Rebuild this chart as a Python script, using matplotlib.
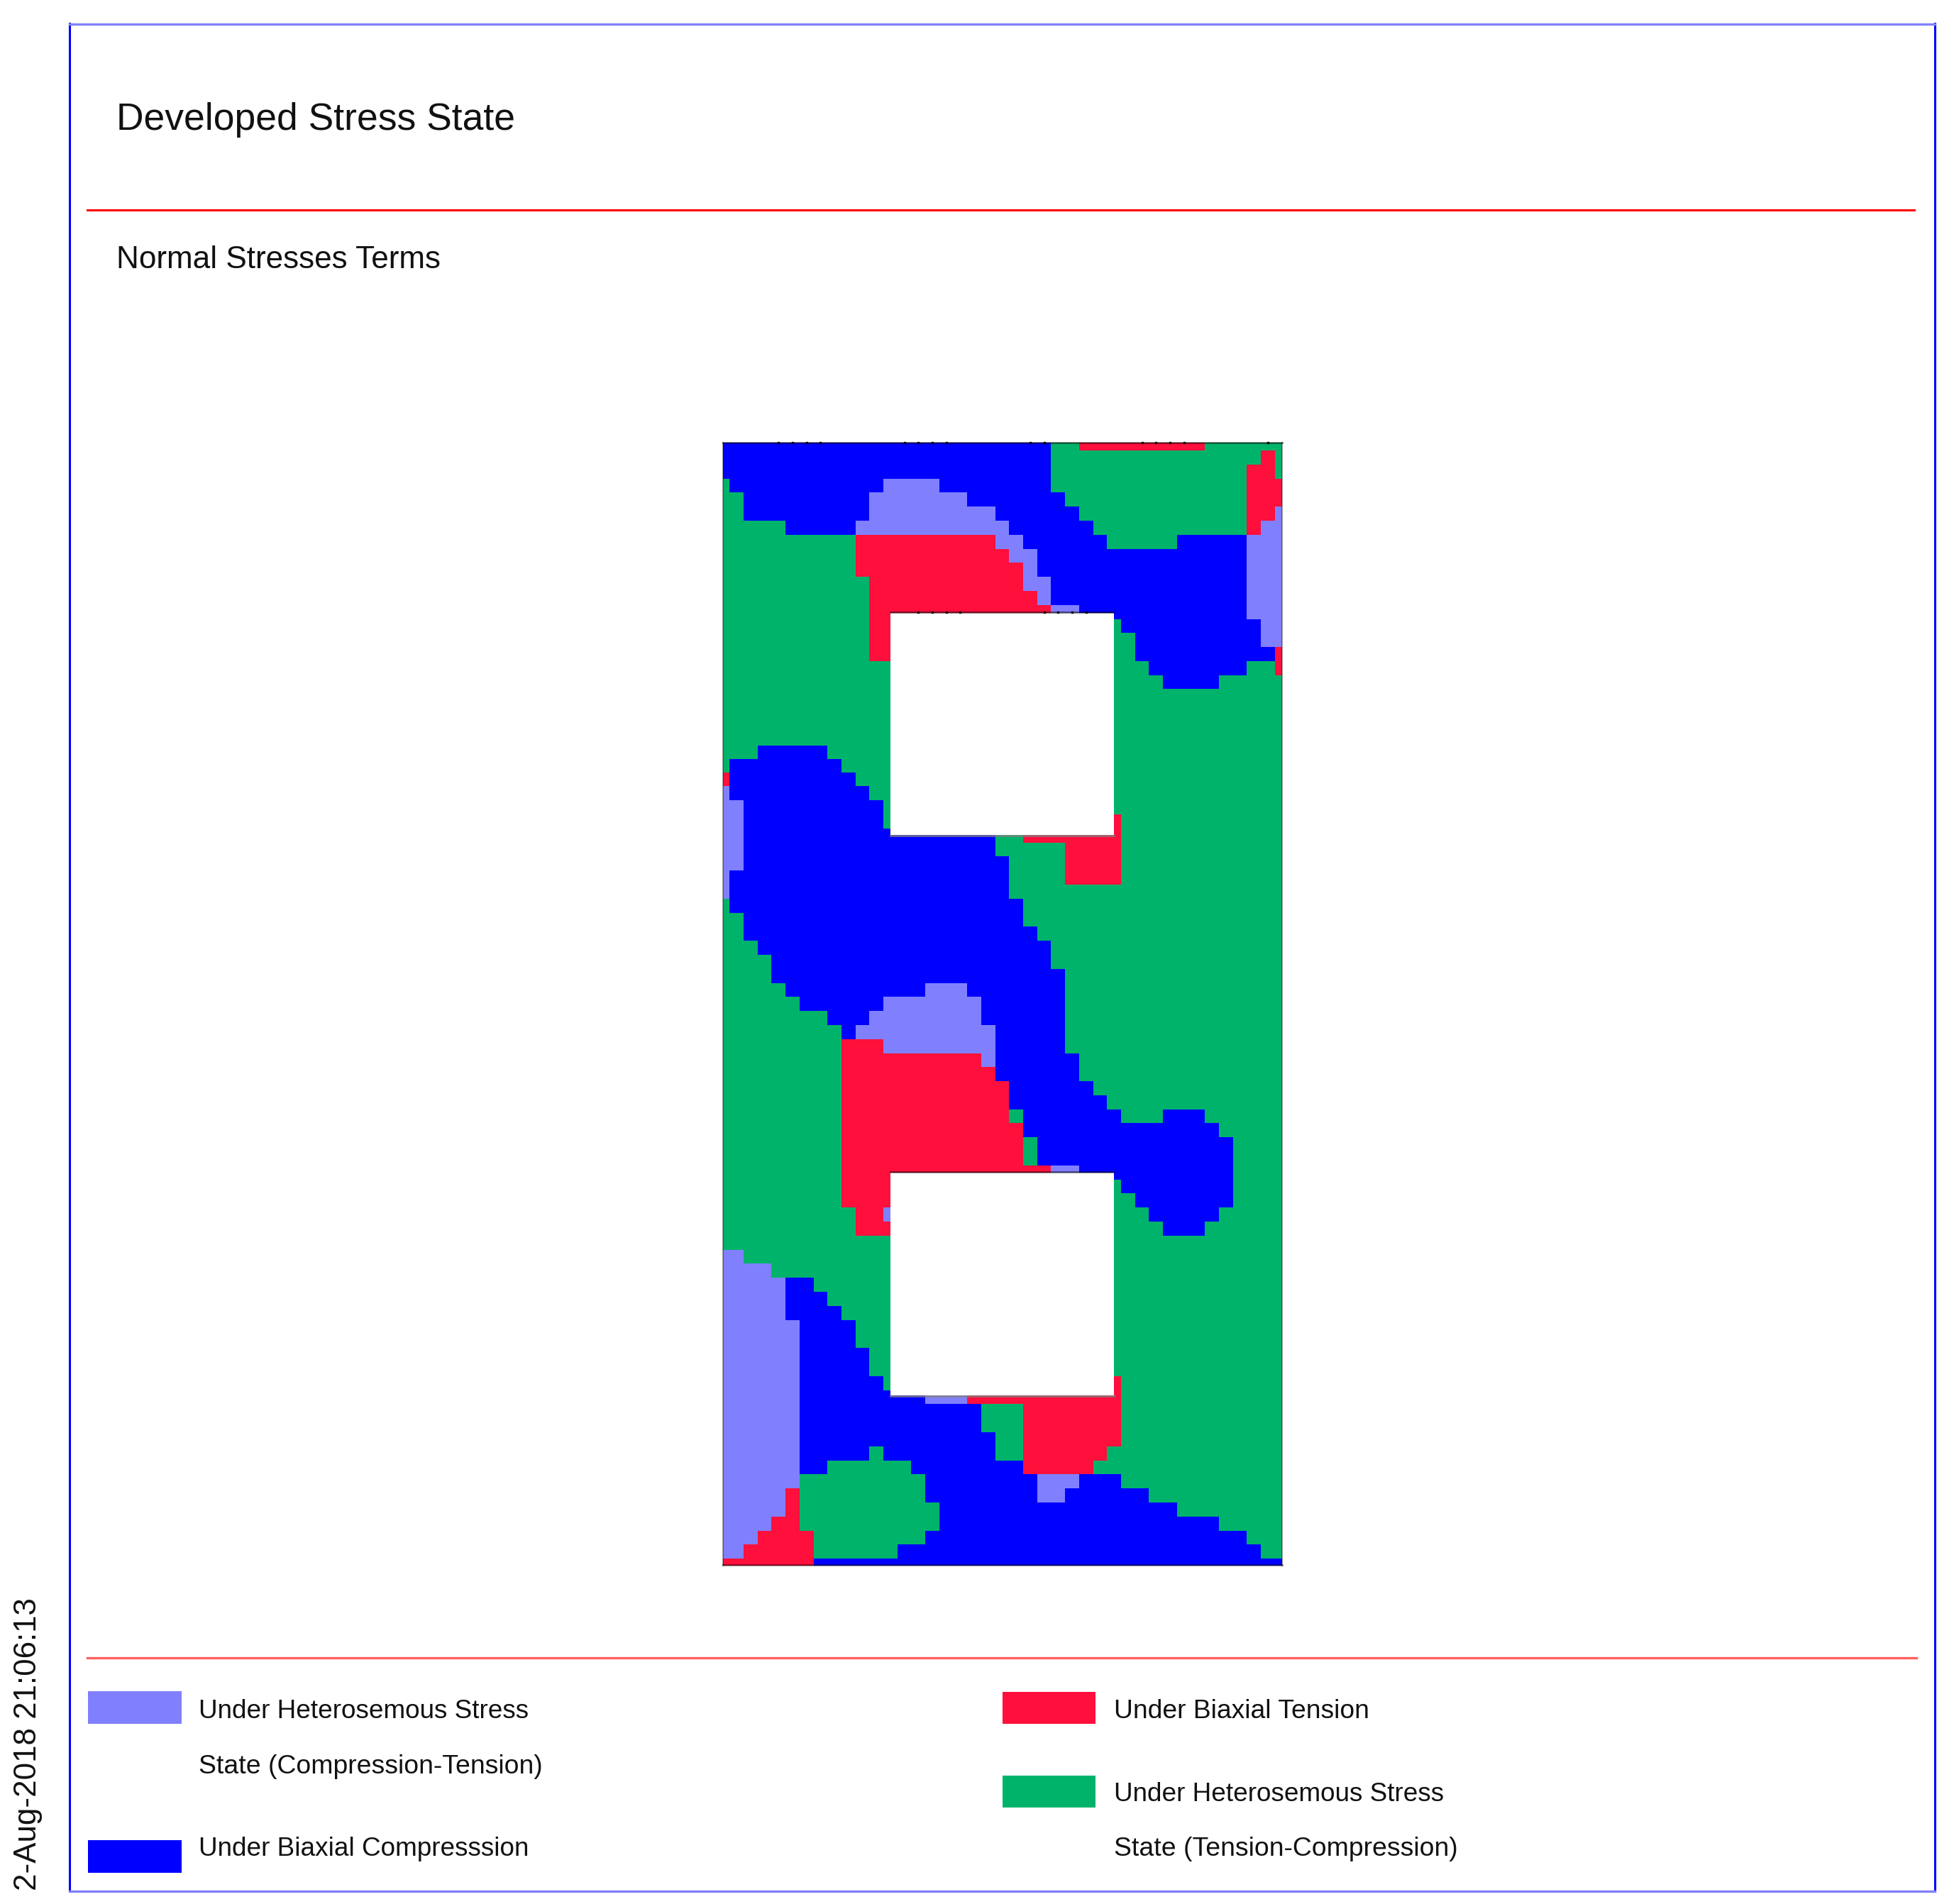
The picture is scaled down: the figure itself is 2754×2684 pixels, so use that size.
from matplotlib import pyplot as plt
from matplotlib.colors import ListedColormap
from matplotlib.patches import Rectangle
import numpy as np

plt.rcParams['font.family'] = ['Liberation Sans', 'DejaVu Sans']

W, H = 2754, 2684

# stress state of each mesh row, top to bottom: letter + column where it starts
states = "LBRG"
colors = ["#8080FF", "#0000FF", "#FF0F3C", "#00B36B"]
rows = [
    "B0 G24 R26 G35", "B0 G24 R39 G40", "B0 G24 R38 G40",
    "G0 B1 L12 B16 G24 R38", "G0 B2 L11 B18 G25 R38", "G0 B2 L11 B20 G26 R38 L40",
    "G0 B5 L10 B21 G27 R38 L39", "G0 R10 L20 B22 G28 B33 L38", "G0 R10 L21 B23 L38",
    "G0 R10 L22 B23 L38", "G0 R11 L22 B24 L38", "G0 R11 L23 B24 L38",
    "G0 R11 L24 B26 L38", "G0 R11 G28 B29 L39", "G0 R11 G28 B30 L39",
    "G0 R11 G28 B30 R40", "G0 B31 G38 R40", "G0 B32 G36",
    "G0", "G0", "G0", "G0",
    "G0 B3 G8", "G0 B1 G9", "R0 B1 G10", "L0 B1 G11", "L0 B2 G12",
    "L0 B2 G12 R28 G29", "L0 B2 G20 R22 G29", "L0 B2 G20 R25 G29", "L0 B2 G21 R25 G29",
    "L0 B1 G21 R25 G29", "L0 B1 G21", "G0 B1 G22", "G0 B2 G22", "G0 B2 G23",
    "G0 B3 G24", "G0 B4 G24", "G0 B4 G25", "G0 B5 L15 B18 G25", "G0 B6 L12 B19 G25",
    "G0 B8 L11 B19 G25", "G0 B9 L10 B20 G25", "G0 R9 L12 B20 G25", "G0 R9 L19 B20 G26",
    "G0 R9 B20 G26", "G0 R9 B21 G27", "G0 R9 B21 G28", "G0 R9 G21 B22 G29 B32 G35",
    "G0 R9 B22 G36", "G0 R9 G22 B23 G37", "G0 R9 G22 B23 G37", "G0 R9 L24 B26 G37",
    "G0 R9 G28 B29 G37", "G0 R9 G28 B30 G37", "G0 R10 L12 G28 B31 G36", "G0 R10 G28 B32 G35",
    "G0", "L0 G2", "L0 G4", "L0 B5 G7",
    "L0 B5 G8", "L0 B5 G9", "L0 B6 G10", "L0 B6 G10", "L0 B6 G11", "L0 B6 G11",
    "L0 B6 G12 R28 G29", "L0 B6 L15 R18 G29", "L0 B6 G19 R22 G29", "L0 B6 G19 R22 G29",
    "L0 B6 G20 R22 G29", "L0 B6 G11 B12 G20 R22 G28", "L0 B6 G8 B14 R22 G27",
    "L0 G6 B15 L23 B26 G29", "L0 R5 G6 B15 L23 B25 G31", "L0 R5 G6 B16 G33",
    "L0 R4 G6 B16 G36", "L0 R3 G7 B15 G38", "L0 R2 G7 B13 G39", "R0 B7",
]
hole_spans = [(12.15, 27.95), (52.0, 67.9)]
top_dots = [4, 5, 6, 7, 13, 14, 15, 16, 22, 23, 30, 31, 32, 33, 39]
hole_dots = [14, 15, 16, 17, 23, 24, 25, 26]

legend_labels = ["Under Heterosemous Stress", "State (Compression-Tension)", "Under Biaxial Compresssion",
                 "Under Biaxial Tension", "Under Heterosemous Stress", "State (Tension-Compression)"]


def buildGrid():
    grid = np.zeros((81, 41), dtype=int)
    for j, row in enumerate(rows):
        runs = row.split()
        for i, run in enumerate(runs):
            start = int(run[1:])
            end = int(runs[i + 1][1:]) if i + 1 < len(runs) else 41
            grid[j, start:end] = states.index(run[0])
    return grid


def main():
    fig = plt.figure(figsize=(W / 100, H / 100), dpi=100)
    ax = fig.add_axes([0, 0, 1, 1])
    ax.set_xlim(0, W)
    ax.set_ylim(H, 0)
    ax.axis("off")

    # frame, the horizontal sides come out paler in the original
    ax.plot([98, 98], [33, 2666], color="#0000FF", lw=2.2)
    ax.plot([2727, 2727], [33, 2666], color="#0000FF", lw=2.2)
    ax.plot([98, 2727], [34, 34], color="#8080FF", lw=2.4)
    ax.plot([98, 2727], [2666, 2666], color="#8080FF", lw=2.4)
    ax.plot([123, 2698], [296, 296], color="#FF0000", lw=2.2)
    ax.plot([123, 2701], [2337, 2337], color="#FF6060", lw=2.4)

    ax.text(163.5, 183, "Developed Stress State", fontsize=38.5, va="baseline", color="#111111")
    ax.text(163.5, 378, "Normal Stresses Terms", fontsize=31.8, va="baseline", color="#111111")
    ax.text(60, 2665, "2-Aug-2018 21:06:13", fontsize=31.6, rotation=90, ha="right", va="bottom", color="#111111")

    # legend
    ax.add_patch(Rectangle((124, 2384), 132, 46, fc=colors[0], ec="none"))
    ax.add_patch(Rectangle((124, 2594), 132, 46, fc=colors[1], ec="none"))
    ax.add_patch(Rectangle((1413, 2385), 131, 45, fc=colors[2], ec="none"))
    ax.add_patch(Rectangle((1413, 2503), 131, 45, fc=colors[3], ec="none"))
    ax.text(280.5, 2422, legend_labels[0], fontsize=26.6, va="baseline", color="#111111")
    ax.text(280.5, 2500, legend_labels[1], fontsize=26.9, va="baseline", color="#111111")
    ax.text(280.5, 2616, legend_labels[2], fontsize=26.6, va="baseline", color="#111111")
    ax.text(1570.5, 2422, legend_labels[3], fontsize=26.8, va="baseline", color="#111111")
    ax.text(1570.5, 2539, legend_labels[4], fontsize=26.6, va="baseline", color="#111111")
    ax.text(1570.5, 2616, legend_labels[5], fontsize=26.9, va="baseline", color="#111111")

    # mesh map, edge nodes only get half a cell
    left, right, top, bottom = 1018.5, 1806.5, 623.5, 2207
    mesh = fig.add_axes([left / W, 1 - bottom / H, (right - left) / W, (bottom - top) / H])
    xedges = np.concatenate([[0], np.arange(41) + 0.5])
    xedges[-1] = 40
    yedges = np.concatenate([[0], np.arange(81) + 0.5])
    yedges[-1] = 80
    yedges[1:24] += 0.08  # upper rows sit a bit lower in the original
    mesh.pcolormesh(xedges, yedges, buildGrid(), cmap=ListedColormap(colors), vmin=-0.5, vmax=3.5)
    mesh.set_xlim(0, 40)
    mesh.set_ylim(80, 0)
    mesh.axis("off")

    mesh.plot([0, 0], [0, 80], color="black", alpha=0.35, lw=1.5, clip_on=False)
    mesh.plot([40, 40], [0, 80], color="black", alpha=0.35, lw=1.5, clip_on=False)
    mesh.plot([0, 40], [0.05, 0.05], color="black", alpha=0.5, lw=2, clip_on=False)
    mesh.plot([0, 40], [79.95, 79.95], color="black", alpha=0.45, lw=2, clip_on=False)
    mesh.plot(top_dots, [0.05] * len(top_dots), "s", color="black", ms=1.6, clip_on=False)

    for t, b in hole_spans:
        mesh.add_patch(Rectangle((12, t), 16, b - t, fc="white", ec="none", zorder=3))
        mesh.plot([12, 28], [t - 0.05, t - 0.05], color="black", alpha=0.5, lw=2, zorder=4)
        mesh.plot([12, 28], [b + 0.05, b + 0.05], color="#808080", alpha=0.8, lw=2, zorder=4)
    mesh.plot(hole_dots, [hole_spans[0][0] - 0.05] * len(hole_dots), "s", color="black", ms=1.6, zorder=5)

    plt.savefig("out.png", dpi=100)


if (__name__ == "__main__"):
    main()
